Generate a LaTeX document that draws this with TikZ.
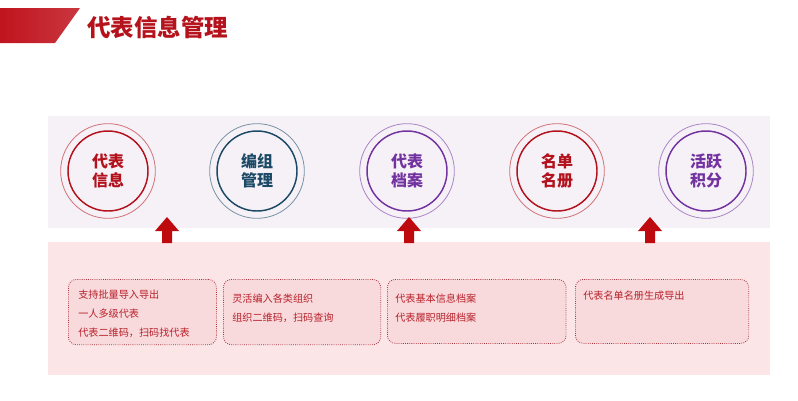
\documentclass[tikz,border=0pt]{standalone}
\usepackage{fontspec}
\setmainfont{Noto Sans CJK SC}
\usetikzlibrary{positioning}
\definecolor{HeadRed}{HTML}{C0141E}
\definecolor{TitleRed}{HTML}{B5121B}
\definecolor{BandTop}{HTML}{F6F1F7}
\definecolor{BandLow}{HTML}{FBE5E7}
\definecolor{BoxFill}{HTML}{F8D9DC}
\definecolor{BoxLine}{HTML}{A8323C}
\definecolor{ArrowRed}{HTML}{BE0A0F}
\definecolor{RingRed}{HTML}{B3121D}
\definecolor{RingBlue}{HTML}{1C4A66}
\definecolor{RingPurple}{HTML}{7233A0}
\definecolor{TextRed}{HTML}{B8222B}
\tikzset{
  ring/.style={circle, draw=#1, line width=1.1pt, minimum size=60pt, inner sep=0pt,
    text=#1, font=\bfseries\fontsize{12}{14.5}\selectfont, align=center},
  halo/.style={circle, draw=#1!60, line width=0.6pt, minimum size=71pt, inner sep=0pt},
  infobox/.style={draw=BoxLine, densely dotted, line width=0.6pt, fill=BoxFill,
    rounded corners=6pt, inner sep=0pt, anchor=north west},
  infotext/.style={anchor=west, text=TextRed, font=\fontsize{7.6}{9}\selectfont, inner sep=0pt},
  uparrow/.style={fill=ArrowRed}
}
\begin{document}
\begin{tikzpicture}[x=0.75pt,y=-0.75pt]
\useasboundingbox (0,0) rectangle (798,400);
% header
\shade[left color=HeadRed, right color=HeadRed!85] (0,8) -- (80,8) -- (55,43) -- (0,43) -- cycle;
\node[anchor=west, text=TitleRed, font=\bfseries\fontsize{17.6}{20}\selectfont, inner sep=0pt] (title) at (87,27) {代表信息管理};
% bands
\fill[BandTop] (48,116) rectangle (770,228);
\fill[BandLow] (48,242) rectangle (770,375);
% circles
\node[halo=RingRed] (h1) at (108,171) {};
\node[ring=RingRed] (c1) at (108,171) {代表\\信息};
\node[halo=RingBlue] (h2) at (257,171) {};
\node[ring=RingBlue] (c2) at (257,171) {编组\\管理};
\node[halo=RingPurple] (h3) at (407,171) {};
\node[ring=RingPurple] (c3) at (407,171) {代表\\档案};
\node[halo=RingRed] (h4) at (557,171) {};
\node[ring=RingRed] (c4) at (557,171) {名单\\名册};
\node[halo=RingPurple] (h5) at (706,171) {};
\node[ring=RingPurple] (c5) at (706,171) {活跃\\积分};
% arrows
\foreach \ax in {167,409,650}
  \fill[uparrow] (\ax,217) -- (\ax+12,231) -- (\ax+5,231) -- (\ax+5,243) -- (\ax-5,243) -- (\ax-5,231) -- (\ax-12,231) -- cycle;
% boxes
\node[infobox, minimum width=111pt, minimum height=49pt] (b1) at (68,279) {};
\node[infobox, minimum width=118pt, minimum height=49pt] (b2) at (223,279) {};
\node[infobox, minimum width=134pt, minimum height=48pt] (b3) at (387,279) {};
\node[infobox, minimum width=130pt, minimum height=48pt] (b4) at (575,279) {};
\node[infotext] (t11) at (78,295) {支持批量导入导出};
\node[infotext] (t12) at (78,314) {一人多级代表};
\node[infotext] (t13) at (78,333) {代表二维码，扫码找代表};
\node[infotext] (t21) at (232,299) {灵活编入各类组织};
\node[infotext] (t22) at (232,318) {组织二维码，扫码查询};
\node[infotext] (t31) at (395,299) {代表基本信息档案};
\node[infotext] (t32) at (395,318) {代表履职明细档案};
\node[infotext] (t41) at (583,296) {代表名单名册生成导出};
\end{tikzpicture}
\end{document}
